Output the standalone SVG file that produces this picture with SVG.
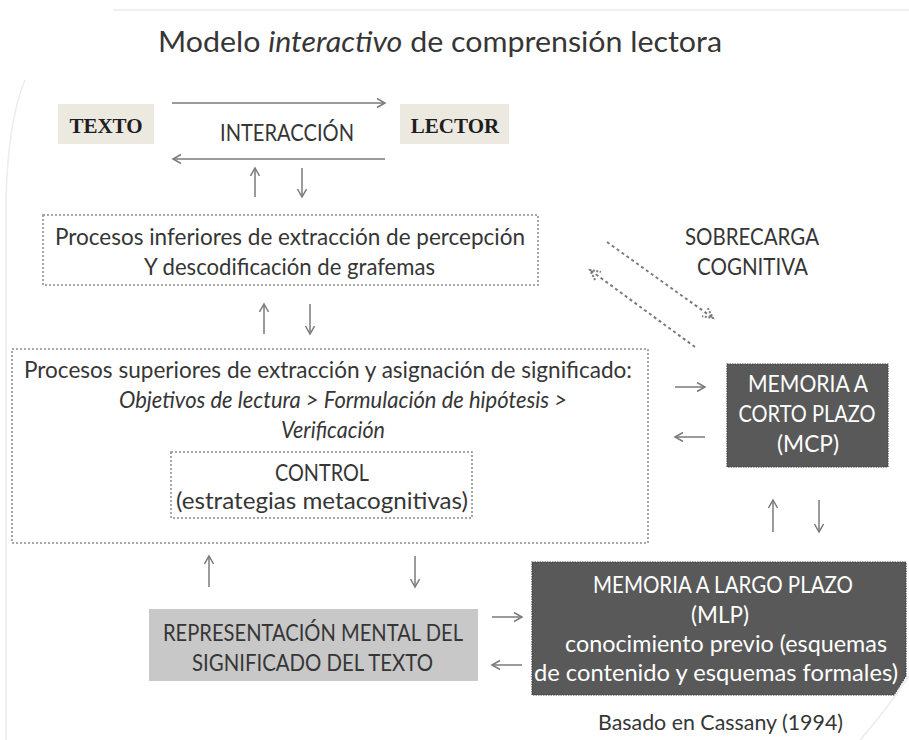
<svg xmlns="http://www.w3.org/2000/svg" width="909" height="740" viewBox="0 0 909 740">
<defs>
<marker id="ah" markerUnits="userSpaceOnUse" markerWidth="12" markerHeight="12" refX="9" refY="5" orient="auto">
<path d="M1,0.5 L9,5 L1,9.5" fill="none" stroke="#7a7a7a" stroke-width="1.5"/>
</marker>
<marker id="ahd" markerUnits="userSpaceOnUse" markerWidth="14" markerHeight="14" refX="11" refY="6" orient="auto">
<path d="M1,1 L11,6 L1,11" fill="none" stroke="#7a7a7a" stroke-width="2" stroke-dasharray="2 1.5"/>
</marker>
<style>
text{font-family:Lato,"Open Sans","Liberation Sans",sans-serif;fill:#363636;font-size:23px}
.t{text-anchor:middle}
.w{fill:#fff}
.it{font-style:italic}
.serif{font-family:"Liberation Serif","Times New Roman",serif;font-weight:bold;font-size:21px;fill:#1e1e1e}
.dot{fill:none;stroke:#8a8a8a;stroke-width:1.5;stroke-dasharray:2 2}
.dark{fill:#595959;stroke:#454545;stroke-width:1.2;stroke-dasharray:1.5 1}
.arr{fill:none;stroke:#7a7a7a;stroke-width:1.5;marker-end:url(#ah)}
.darr{fill:none;stroke:#7a7a7a;stroke-width:2;stroke-dasharray:3 3;marker-end:url(#ahd)}
.faint{fill:none;stroke:#ececec;stroke-width:1.5}
</style>
</defs>
<rect width="909" height="740" fill="#fff"/>
<g id="background">
<path class="faint" d="M113,10 H909"/>
<path class="faint" d="M25,80 Q8,120 6,200 V740"/>
<path class="faint" d="M909,676 Q885,712 860,740"/>
</g>
<g id="title">
<text x="158" y="52" style="font-size:29px" textLength="564" lengthAdjust="spacingAndGlyphs">Modelo <tspan class="it">interactivo</tspan> de comprensión lectora</text>
</g>
<g id="texto">
<rect x="58" y="104" width="96" height="40" fill="#ece9e1"/>
<text class="serif t" x="106" y="133">TEXTO</text>
</g>
<g id="lector">
<rect x="400" y="104" width="109" height="40" fill="#ece9e1"/>
<text class="serif t" x="455" y="133">LECTOR</text>
</g>
<g id="interaccion">
<text x="220" y="141" textLength="134" lengthAdjust="spacingAndGlyphs">INTERACCIÓN</text>
</g>
<g id="procesos-inferiores">
<rect class="dot" x="43" y="215" width="495" height="70"/>
<text x="55" y="245" textLength="470" lengthAdjust="spacingAndGlyphs">Procesos inferiores de extracción de percepción</text>
<text x="144" y="275" textLength="291" lengthAdjust="spacingAndGlyphs">Y descodificación de grafemas</text>
</g>
<g id="sobrecarga">
<text x="685" y="245" textLength="134" lengthAdjust="spacingAndGlyphs">SOBRECARGA</text>
<text x="697" y="275" textLength="111" lengthAdjust="spacingAndGlyphs">COGNITIVA</text>
</g>
<g id="procesos-superiores">
<rect class="dot" x="12" y="349" width="636" height="194"/>
<text x="24" y="378" textLength="608" lengthAdjust="spacingAndGlyphs">Procesos superiores de extracción y asignación de significado:</text>
<text class="it" x="119" y="408" textLength="448" lengthAdjust="spacingAndGlyphs">Objetivos de lectura &gt; Formulación de hipótesis &gt;</text>
<text class="it t" x="333" y="438" textLength="104" lengthAdjust="spacingAndGlyphs">Verificación</text>
</g>
<g id="control">
<rect class="dot" x="171" y="452" width="301" height="66"/>
<text class="t" x="322" y="481" textLength="94" lengthAdjust="spacingAndGlyphs">CONTROL</text>
<text x="176" y="509" textLength="292" lengthAdjust="spacingAndGlyphs">(estrategias metacognitivas)</text>
</g>
<g id="mcp">
<rect class="dark" x="727" y="364" width="161" height="103"/>
<text class="w t" x="808" y="392" textLength="120" lengthAdjust="spacingAndGlyphs">MEMORIA A</text>
<text class="w t" x="807" y="422" textLength="137" lengthAdjust="spacingAndGlyphs">CORTO PLAZO</text>
<text class="w t" x="808" y="452" textLength="62" lengthAdjust="spacingAndGlyphs">(MCP)</text>
</g>
<g id="representacion">
<rect x="149" y="609" width="329" height="72" fill="#c8c8c8"/>
<text x="163" y="641" textLength="300" lengthAdjust="spacingAndGlyphs">REPRESENTACIÓN MENTAL DEL</text>
<text x="192" y="671" textLength="241" lengthAdjust="spacingAndGlyphs">SIGNIFICADO DEL TEXTO</text>
</g>
<g id="mlp">
<path class="dark" d="M532,562 H906 V676 L894,695 H532 Z"/>
<text class="w" x="593" y="593" textLength="260" lengthAdjust="spacingAndGlyphs">MEMORIA A LARGO PLAZO</text>
<text class="w t" x="720" y="623" textLength="58" lengthAdjust="spacingAndGlyphs">(MLP)</text>
<text class="w" x="565" y="652" textLength="322" lengthAdjust="spacingAndGlyphs">conocimiento previo (esquemas</text>
<text class="w" x="534" y="681" textLength="364" lengthAdjust="spacingAndGlyphs">de contenido y esquemas formales)</text>
</g>
<g id="fuente">
<text x="598" y="730" style="font-size:22px" textLength="245" lengthAdjust="spacingAndGlyphs">Basado en Cassany (1994)</text>
</g>
<g id="connectors">
<path class="arr" d="M172,103 H385"/>
<path class="arr" d="M385,159 H173"/>
<path class="arr" d="M255,197 V168"/>
<path class="arr" d="M302,168 V197"/>
<path class="arr" d="M264,334 V304"/>
<path class="arr" d="M310,304 V334"/>
<path class="darr" d="M607,242 L713,318"/>
<path class="darr" d="M695,347 L590,270"/>
<path class="arr" d="M675,387 H705"/>
<path class="arr" d="M705,437 H675"/>
<path class="arr" d="M773,532 V500"/>
<path class="arr" d="M819,500 V532"/>
<path class="arr" d="M209,587 V556"/>
<path class="arr" d="M415,556 V587"/>
<path class="arr" d="M492,617 H522"/>
<path class="arr" d="M522,665 H492"/>
</g>
</svg>
